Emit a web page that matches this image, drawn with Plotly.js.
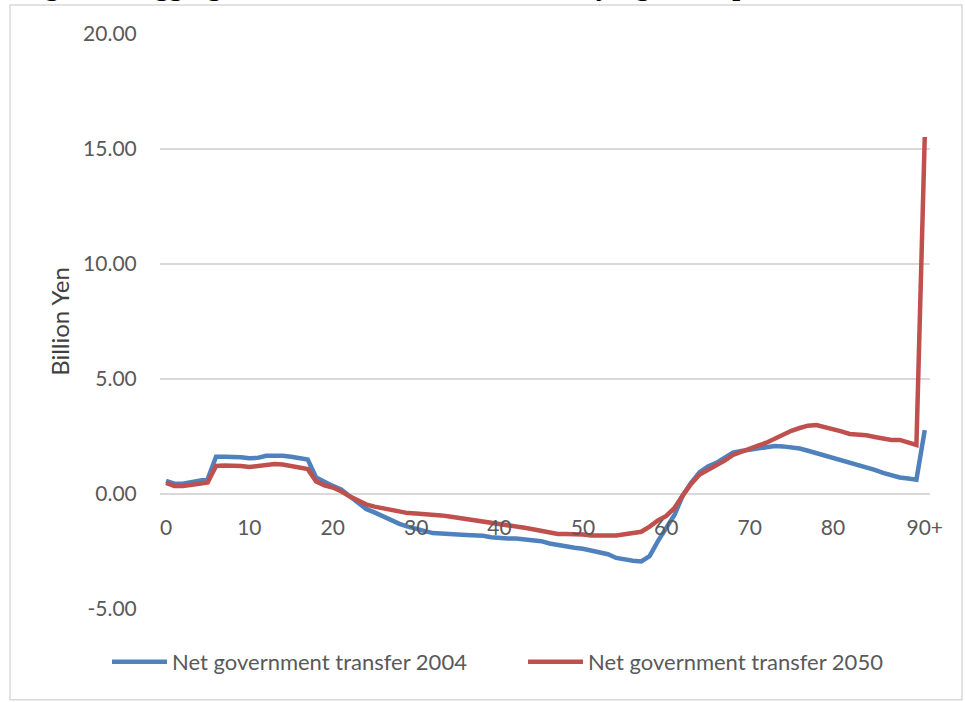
<!DOCTYPE html>
<html>
<head>
<meta charset="utf-8">
<script src="https://cdn.plot.ly/plotly-3.0.1.min.js"></script>
<style>
html,body{margin:0;padding:0;background:#fff;}
#chart{width:965px;height:702px;}
</style>
</head>
<body>
<div id="chart"></div>
<script>
// Age categories (last one is 90+)
const ages = ["0","1","2","3","4","5","6","7","8","9",
  "10","11","12","13","14","15","16","17","18","19",
  "20","21","22","23","24","25","26","27","28","29",
  "30","31","32","33","34","35","36","37","38","39",
  "40","41","42","43","44","45","46","47","48","49",
  "50","51","52","53","54","55","56","57","58","59",
  "60","61","62","63","64","65","66","67","68","69",
  "70","71","72","73","74","75","76","77","78","79",
  "80","81","82","83","84","85","86","87","88","89",
  "90","90+"];

// Net government transfer 2004 (billion yen)
const transfer2004 = [0.57,0.45,0.45,0.50,0.58,0.65,1.62,1.62,1.62,1.60,
  1.55,1.57,1.66,1.67,1.66,1.62,1.56,1.50,0.72,0.52,
  0.35,0.20,-0.10,-0.40,-0.65,-0.80,-0.98,-1.15,-1.30,-1.42,
  -1.50,-1.60,-1.70,-1.72,-1.72,-1.76,-1.78,-1.78,-1.82,-1.88,
  -1.92,-1.93,-1.93,-1.98,-2.02,-2.05,-2.15,-2.22,-2.28,-2.34,
  -2.38,-2.45,-2.52,-2.62,-2.78,-2.86,-2.90,-2.93,-2.70,-2.05,
  -1.45,-0.90,-0.05,0.50,0.95,1.20,1.35,1.60,1.80,1.87,
  1.92,1.98,2.04,2.09,2.07,2.03,1.98,1.88,1.78,1.67,
  1.55,1.45,1.35,1.25,1.15,1.05,0.92,0.80,0.72,0.67,
  0.62,2.78];

// Net government transfer 2050 (billion yen)
const transfer2050 = [0.48,0.35,0.35,0.38,0.45,0.50,1.22,1.24,1.24,1.22,
  1.17,1.22,1.28,1.30,1.28,1.20,1.13,1.08,0.55,0.38,
  0.28,0.12,-0.10,-0.30,-0.45,-0.55,-0.62,-0.70,-0.77,-0.83,
  -0.85,-0.87,-0.88,-0.93,-0.98,-1.03,-1.10,-1.15,-1.20,-1.25,
  -1.30,-1.35,-1.42,-1.47,-1.53,-1.60,-1.65,-1.74,-1.74,-1.74,
  -1.76,-1.80,-1.78,-1.80,-1.80,-1.74,-1.68,-1.64,-1.42,-1.15,
  -0.95,-0.60,-0.05,0.45,0.85,1.05,1.22,1.45,1.70,1.85,
  2.00,2.10,2.23,2.40,2.60,2.75,2.87,2.97,3.00,2.92,
  2.83,2.72,2.61,2.60,2.55,2.48,2.42,2.35,2.35,2.25,
  2.13,15.52];

const seriesNames = ["Net government transfer 2004","Net government transfer 2050"];
const xTickVals = ["0","10","20","30","40","50","60","70","80","90+"];
const yTickVals = [-5,0,5,10,15,20];
const yTickText = ["-5.00","0.00","5.00","10.00","15.00","20.00"];
const figureTitle = "Figure 3: Aggregate Net Government Transfer by Age Group";

const font = "Lato, 'Open Sans', sans-serif";

const traces = [
  {x: ages, y: transfer2004, name: seriesNames[0], type: "scatter", mode: "lines",
   line: {color: "#4F81BD", width: 4.5}},
  {x: ages, y: transfer2050, name: seriesNames[1], type: "scatter", mode: "lines",
   line: {color: "#C0504D", width: 4.5}}
];

const layout = {
  width: 965, height: 702,
  margin: {l: 160, r: 35, t: 34, b: 93},
  paper_bgcolor: "#fff", plot_bgcolor: "#fff",
  font: {family: font, color: "#595959"},
  showlegend: true,
  legend: {orientation: "h", x: -0.0688, xanchor: "left", y: -0.092, yanchor: "middle",
    font: {size: 22, color: "#595959", family: font}, itemwidth: 55, entrywidth: 346,
    bgcolor: "rgba(0,0,0,0)"},
  xaxis: {type: "category", range: [-0.72, 91.63], tickmode: "array", tickvals: xTickVals,
    showgrid: false, zeroline: false, showline: false,
    anchor: "free", position: 0.2, ticks: "outside", ticklen: 15, tickcolor: "rgba(0,0,0,0)",
    tickfont: {size: 21, color: "#595959"}, fixedrange: true},
  yaxis: {range: [-5, 20], tickmode: "array", tickvals: yTickVals, ticktext: yTickText,
    showgrid: true, gridcolor: "#d9d9d9", gridwidth: 1.3, zeroline: false, showline: false,
    ticks: "outside", ticklen: 18, tickcolor: "rgba(0,0,0,0)",
    tickfont: {size: 21, color: "#595959"},
    title: {text: "Billion Yen", font: {size: 24, color: "#404040"}, standoff: 6}},
  shapes: [
    {type: "rect", xref: "paper", yref: "paper", x0: -0.1948, x1: 1.0416, y0: -0.158, y1: 1.0504,
     line: {color: "#d9d9d9", width: 1.5}, fillcolor: "rgba(0,0,0,0)", layer: "below"}
  ],
  annotations: [
    {text: "<b>" + figureTitle + "</b>", xref: "paper", yref: "paper", x: -0.1844, xanchor: "left",
     y: 1.0504, yanchor: "bottom", yshift: 2.5, showarrow: false,
     font: {family: "'Liberation Serif', 'Times New Roman', serif", size: 28, color: "#000"}}
  ]
};

Plotly.newPlot("chart", traces, layout, {displayModeBar: false, staticPlot: true});
</script>
</body>
</html>
